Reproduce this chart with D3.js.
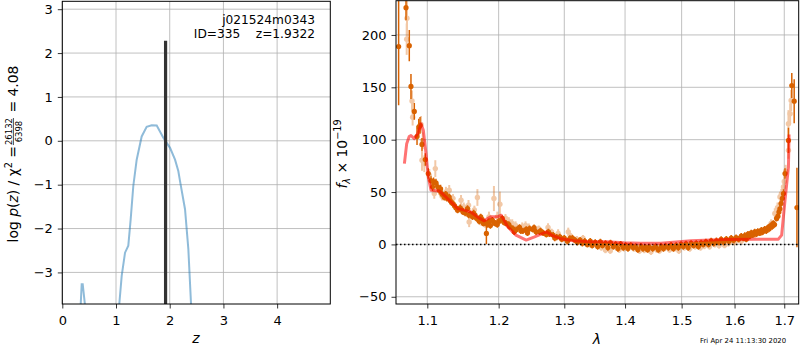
<!DOCTYPE html>
<html>
<head>
<meta charset="utf-8">
<script src="https://cdn.jsdelivr.net/npm/d3@7"></script>
<style>
body { margin: 0; background: #fff; }
text { font-family: "DejaVu Sans", sans-serif; fill: #000; }
</style>
</head>
<body>
<svg id="chart" width="800" height="350"></svg>
<script>
// ---- redshift panel: log p(z) ----
const pzZ = [0.34, 0.361, 0.38, 0.423, 0.47, 1.0, 1.061, 1.106, 1.168, 1.229, 1.273, 1.322, 1.385, 1.478,
    1.571, 1.665, 1.758, 1.881, 2.006, 2.099, 2.16, 2.192, 2.285, 2.347, 2.397, 2.45];
const pzLog = [-3.8, -3.27, -3.27, -3.75, -5, -5, -3.72, -3.08, -2.55, -2.39, -1.79, -1.03, -0.43, 0.10,
    0.32, 0.355, 0.35, 0.07, -0.16, -0.43, -0.69, -0.92, -1.56, -2.47, -3.72, -5];
const zBest = 1.9322;
const peakLog = 2.28;
const zTicks = [0, 1, 2, 3, 4];
const logTicks = [-3, -2, -1, 0, 1, 2, 3];
const chi2Num = 26132;
const chi2Den = 6398;
const objName = 'j021524m0343';
const objId = 335;

// ---- spectrum panel ----
// dark points (wavelength in micron, flux, error)
const darkWave = [1.0622, 1.0718, 1.0761, 1.0783, 1.0827, 1.0863, 1.0886, 1.0903, 1.0929, 1.0973, 1.1013, 1.105,
    1.1085, 1.1117, 1.114, 1.1161, 1.12, 1.123, 1.1265, 1.1298, 1.133, 1.137, 1.1414, 1.145, 1.149, 1.1553,
    1.159, 1.1624, 1.166, 1.17, 1.1741, 1.178, 1.1822, 1.186, 1.1908, 1.195, 1.2, 1.2053, 1.2111, 1.216,
    1.2209, 1.226, 1.2309, 1.236, 1.241, 1.246, 1.2512, 1.256, 1.2615, 1.267, 1.2719, 1.277, 1.2824, 1.288,
    1.293, 1.3, 1.309, 1.317, 1.3253, 1.333, 1.3418, 1.35, 1.3585, 1.367, 1.3754, 1.384, 1.3925, 1.401,
    1.4098, 1.418, 1.4273, 1.435, 1.4421, 1.453, 1.4627, 1.471, 1.4807, 1.49, 1.4989, 1.508, 1.5174, 1.527,
    1.5361, 1.545, 1.555, 1.565, 1.5741, 1.584, 1.5935, 1.603, 1.6131, 1.62, 1.6264, 1.633, 1.6398, 1.646,
    1.6533, 1.66, 1.667, 1.672, 1.6773, 1.6842, 1.689, 1.6932, 1.6983, 1.7016, 1.7087, 1.7157, 1.7207, 1.7265,
    // lower side of the band
    1.107, 1.118, 1.125, 1.131, 1.135, 1.139, 1.147, 1.152, 1.157, 1.164, 1.168, 1.172, 1.176, 1.18,
    1.184, 1.188, 1.193, 1.198, 1.203, 1.208, 1.215, 1.223, 1.233, 1.243, 1.253, 1.263, 1.275, 1.285,
    1.296, 1.305, 1.313, 1.321, 1.329, 1.337, 1.345, 1.354, 1.362, 1.371, 1.38, 1.388, 1.397, 1.405,
    1.414, 1.422, 1.431, 1.439, 1.448, 1.458, 1.467, 1.476, 1.485, 1.494, 1.503, 1.512, 1.522, 1.531,
    1.54, 1.55, 1.56, 1.57, 1.579, 1.589, 1.598, 1.608, 1.617, 1.623, 1.63, 1.636, 1.643, 1.65,
    1.656, 1.663, 1.669, 1.675, 1.68, 1.687, 1.691, 1.696];
const darkFlux = [188.9, 226, 189.8, 150.8, 127, 103, 112, 113.6, 95.5, 81, 67.6, 61,
    60, 58.7, 55, 51.7, 48, 45, 44, 45.3, 40, 37, 32.7, 35, 31, 34.3,
    29, 26.3, 28, 24, 26.3, 20, 10.5, 22, 23.1, 20, 22, 24.8, 20, 17,
    15.2, 14, 16.2, 13, 14.3, 15, 14.3, 12, 12, 11, 9.5, 10, 8.9, 7,
    7.2, 6, 5.7, 4, 4.1, 3, 3.1, 2, 2.5, 1, 1.5, 0, 0.3, -1,
    -1, -2, -1.6, -2.5, -2.3, -2, -1.6, -1.5, -0.7, -1, 0, 0.5, 1, 1,
    1.5, 2.5, 3.4, 3.5, 4.8, 5, 6, 6.5, 7.9, 8.5, 9.8, 11, 12, 12.5,
    13.6, 14.5, 16.2, 18, 20, 24.8, 31, 39, 48.6, 67.6, 99.3, 151.7, 136.8, 35.2,
    55, 53, 48, 42, 39, 35, 33, 30, 28, 30, 25, 22, 24, 21,
    19, 18, 21, 19, 23, 21, 19, 12, 13, 11, 16, 13, 12, 6,
    5, 3, 6, 2, 1, 0, -1, -2, -1, -3, -2, -4, -3, -4,
    -3, -5, -4, -5, -4, -5, -4, -3, -4, -3, -2, -3, -1, -2,
    0, 0, 1, 2, 2, 3, 4, 5, 6, 5, 8, 9, 10, 11,
    12, 13, 15, 17, 19, 27, 34, 44];
const darkErr = [56, 12, 15, 12, 8, 8, 8, 8, 6, 6, 5, 4,
    4, 4, 4, 4, 3, 3, 3, 3, 3, 3, 3, 3, 3, 3,
    3, 3, 3, 3, 3, 3, 10, 3, 3, 3, 3, 3, 3, 3,
    3, 3, 3, 3, 3, 3, 3, 3, 3, 3, 3, 3, 3, 3,
    3, 3, 3, 3, 3, 3, 3, 3, 3, 3, 3, 3, 3, 3,
    3, 3, 3, 3, 3, 3, 3, 3, 3, 3, 3, 3, 3, 3,
    3, 3, 3, 3, 3, 3, 3, 3, 3, 3, 3, 3, 3, 3,
    3, 3, 3, 3, 3, 3, 3, 4, 4, 5, 12, 12, 21, 38,
    4, 4, 3, 3, 3, 3, 3, 3, 3, 3, 3, 3, 3, 3,
    3, 3, 3, 3, 3, 3, 3, 3, 3, 3, 3, 3, 3, 3,
    3, 3, 3, 3, 3, 3, 3, 3, 3, 3, 3, 3, 3, 3,
    3, 3, 3, 3, 3, 3, 3, 3, 3, 3, 3, 3, 3, 3,
    3, 3, 3, 3, 3, 3, 3, 3, 3, 3, 3, 3, 3, 3,
    3, 3, 3, 3, 3, 4, 4, 4];

// light (transparent) points
const lightWave = [1.0727, 1.0731, 1.0797, 1.0805, 1.0916, 1.0939, 1.0929, 1.096, 1.1027, 1.1094, 1.1108, 1.1253,
    1.1298, 1.1462, 1.1567, 1.1585, 1.1576, 1.1693, 1.1741, 1.1859, 1.1931, 1.198, 1.2018, 1.215, 1.225,
    1.235, 1.245, 1.2745, 1.2903, 1.3063, 1.33, 1.35, 1.3669, 1.385, 1.3982, 1.415, 1.4331, 1.4392, 1.455,
    1.4686, 1.487, 1.505, 1.525, 1.5423, 1.562, 1.5806, 1.595, 1.6071, 1.62, 1.6331, 1.647, 1.6601, 1.6805,
    1.6911, 1.6983, 1.7087, 1.7087, 1.7122, 1.7143,
    1.12, 1.135, 1.15, 1.165, 1.18, 1.21, 1.22, 1.24, 1.26, 1.28, 1.31, 1.32, 1.34, 1.36,
    1.375, 1.39, 1.405, 1.425, 1.445, 1.46, 1.478, 1.495, 1.515, 1.535, 1.552, 1.57, 1.588, 1.6,
    1.613, 1.627, 1.64, 1.653, 1.667, 1.673, 1.686, 1.694, 1.7, 1.703];
const lightFlux = [196, 216, 137, 121.5, 114.6, 99, 80.3, 77, 66, 48.6, 72.4, 50,
    51.7, 42.2, 37.4, 29.5, 21.5, 44.8, 23.1, 26.3, 43.8, 26.3, 38.4, 22, 18,
    17, 16, 16.2, 10.5, 12, 6, 1, -5.4, -3, -3.8, -4, -5.4, -3.8, -5,
    -3.8, -4, -2.9, -2, -1.6, 0, -0.7, 3, 4.1, 6, 10.5, 11, 14.3, 29.5,
    45.3, 54.9, 89.8, 115.2, 124.8, 137.4,
    46, 44, 36, 33, 20, 25, 20, 18, 15, 12, 8, 5, 0, -3,
    -6, -5, -2, -6, -7, -6, -5, -6, -4, -3, -2, -1, 1, 2,
    3, 7, 9, 11, 14, 20, 35, 48, 60, 70];
const lightErr = [15, 20, 10, 8, 8, 8, 10, 8, 6, 5, 8, 5,
    5, 5, 5, 5, 5, 8, 5, 5, 12, 5, 12, 4, 4,
    4, 4, 4, 4, 4, 3, 3, 3, 3, 3, 3, 3, 3, 3,
    3, 3, 3, 3, 3, 3, 3, 3, 3, 3, 3, 3, 3, 5,
    5, 5, 8, 13, 10, 10,
    4, 4, 4, 4, 4, 4, 4, 4, 3, 3, 3, 3, 3, 3,
    3, 3, 3, 3, 3, 3, 3, 3, 3, 3, 3, 3, 3, 3,
    3, 3, 3, 3, 3, 4, 5, 5, 6, 6];

// model
const modelWave = [1.0697, 1.0727, 1.076, 1.0783, 1.0827, 1.0873, 1.0916, 1.0947, 1.0983, 1.1013, 1.105, 1.1161,
    1.1253, 1.1345, 1.1414, 1.1505, 1.16, 1.1693, 1.1786, 1.1882, 1.198, 1.2038, 1.2133, 1.2256, 1.241,
    1.2537, 1.2719, 1.2798, 1.293, 1.3143, 1.3418, 1.3697, 1.3982, 1.4273, 1.4627, 1.5174, 1.5806, 1.6466,
    1.6878, 1.6946, 1.7016, 1.7087, 1.71];
const modelFlux = [77.1, 96.2, 103, 104, 101, 105.7, 115.2, 108.9, 86.7, 64.4, 51.7, 51,
    45.3, 39, 34.3, 32.7, 31, 26.3, 22.5, 26.3, 26.3, 27.9, 16.8, 8.9, 4.1,
    7.2, 12, 8.9, 5.7, 3.4, 2.5, 2.5, 1.5, 1, 1, 3.4, 4.8, 5,
    5, 8.9, 42.2, 73.9, 105];
const waveTicks = [1.1, 1.2, 1.3, 1.4, 1.5, 1.6, 1.7];
const fluxTicks = [-50, 0, 50, 100, 150, 200];
const dateText = 'Fri Apr 24 11:13:30 2020';

const orange = '#d96200';
const svg = d3.select('#chart');

// set up a matplotlib-like box with grid and ticks
const makePanel = (x, y, xTicks, yTicks, fmtX, fmtY, id) => {
    const [x0, x1] = x.range();
    const [y0, y1] = y.range();
    const g = svg.append('g');
    g.append('clipPath').attr('id', id).append('rect')
        .attr('x', x0).attr('y', y1).attr('width', x1 - x0).attr('height', y0 - y1);

    const grid = g.append('g').attr('stroke', '#b0b0b0').attr('stroke-width', 0.8);
    grid.selectAll('.gx').data(xTicks).enter().append('line')
        .attr('x1', d => x(d)).attr('x2', d => x(d)).attr('y1', y0).attr('y2', y1);
    grid.selectAll('.gy').data(yTicks).enter().append('line')
        .attr('y1', d => y(d)).attr('y2', d => y(d)).attr('x1', x0).attr('x2', x1);

    const styleAxis = a => {
        a.select('.domain').remove();
        a.attr('font-size', 13).attr('font-family', '"DejaVu Sans", sans-serif');
        a.selectAll('line').attr('stroke', '#000').attr('stroke-width', 0.8);
    };
    g.append('g').attr('transform', `translate(0,${y0})`)
        .call(d3.axisBottom(x).tickValues(xTicks).tickSize(4.5).tickPadding(7).tickFormat(fmtX))
        .call(styleAxis);
    g.append('g').attr('transform', `translate(${x0},0)`)
        .call(d3.axisLeft(y).tickValues(yTicks).tickSize(4.5).tickPadding(5).tickFormat(fmtY))
        .call(styleAxis);

    const plot = g.append('g').attr('clip-path', `url(#${id})`);
    const frame = () => g.append('rect')
        .attr('x', x0).attr('y', y1).attr('width', x1 - x0).attr('height', y0 - y1)
        .attr('fill', 'none').attr('stroke', '#000').attr('stroke-width', 1);
    return { g, plot, frame };
};

// ---------- left panel ----------
const zScale = d3.scaleLinear().domain([0, 4.99]).range([62.3, 330.3]);
const pScale = d3.scaleLinear().domain([-3.72, 3.18]).range([304, 1.3]);
const left = makePanel(zScale, pScale, zTicks, logTicks, d3.format('d'), d3.format('d'), 'clipL');

left.plot.append('path')
    .datum(pzZ.map((z, i) => [z, pzLog[i]]))
    .attr('d', d3.line().x(d => zScale(d[0])).y(d => pScale(d[1])))
    .attr('fill', 'none').attr('stroke', '#1f77b4').attr('stroke-opacity', 0.5).attr('stroke-width', 2);

left.plot.append('line')
    .attr('x1', zScale(zBest) - 0.5).attr('x2', zScale(zBest) - 0.5)
    .attr('y1', pScale(-3.72)).attr('y2', pScale(peakLog))
    .attr('stroke', '#333').attr('stroke-width', 3.2);
left.frame();

left.g.append('text').attr('x', 315).attr('y', 24).attr('text-anchor', 'end')
    .attr('font-size', 12.2).text(objName);
left.g.append('text').attr('x', 315).attr('y', 38).attr('text-anchor', 'end')
    .attr('font-size', 12.2).style('white-space', 'pre')
    .text(`ID=${objId}    z=${zBest.toFixed(4)}`);

// x label
left.g.append('text').attr('x', 196).attr('y', 343).attr('text-anchor', 'middle')
    .attr('font-size', 14).attr('font-style', 'italic').text('z');

// y label with a fraction
const yl = svg.append('g').attr('transform', 'translate(18,154) rotate(-90)');
const ylIn = yl.append('g');
const t1 = ylIn.append('text').attr('font-size', 13.9);
t1.append('tspan').text('log ');
t1.append('tspan').attr('font-style', 'italic').text('p');
t1.append('tspan').text('(');
t1.append('tspan').attr('font-style', 'italic').text('z');
t1.append('tspan').text(') / χ');
t1.append('tspan').attr('font-size', 9.7).attr('dy', -6).text('2');
t1.append('tspan').attr('dy', 6).text(' = ');
const w1 = t1.node().getComputedTextLength();
const num = ylIn.append('text').attr('font-size', 8.5).attr('y', -6.5).text(chi2Num);
const den = ylIn.append('text').attr('font-size', 8.5).attr('y', 3.5).text(chi2Den);
const wn = num.node().getComputedTextLength();
const wd = den.node().getComputedTextLength();
const fw = Math.max(wn, wd);
const fx = w1 + 1;
num.attr('x', fx + (fw - wn) / 2);
den.attr('x', fx + (fw - wd) / 2);
ylIn.append('line').attr('x1', fx).attr('x2', fx + fw).attr('y1', -4.6).attr('y2', -4.6)
    .attr('stroke', '#000').attr('stroke-width', 0.7);
const t2 = ylIn.append('text').attr('font-size', 13.9).attr('x', fx + fw + 1)
    .text(` = ${(chi2Num / chi2Den).toFixed(2)}`).style('white-space', 'pre');
const total = fx + fw + 1 + t2.node().getComputedTextLength();
ylIn.attr('transform', `translate(${-total / 2},0)`);

// ---------- right panel ----------
const wScale = d3.scaleLog().domain([1.0588, 1.7302]).range([396, 798.7]);
const fScale = d3.scaleLinear().domain([-56.9, 232.7]).range([304, 0.7]);
const right = makePanel(wScale, fScale, waveTicks, fluxTicks, d3.format('.1f'), d3.format('d'), 'clipR');

const drawPoints = (wave, flux, err, opacity, r, ew) => {
    const pts = right.plot.append('g').attr('opacity', opacity);
    const data = wave.map((w, i) => ({ w, f: flux[i], e: err[i] }));
    pts.selectAll('line').data(data).enter().append('line')
        .attr('x1', d => wScale(d.w)).attr('x2', d => wScale(d.w))
        .attr('y1', d => fScale(d.f - d.e)).attr('y2', d => fScale(d.f + d.e))
        .attr('stroke', orange).attr('stroke-width', ew);
    pts.selectAll('circle').data(data).enter().append('circle')
        .attr('cx', d => wScale(d.w)).attr('cy', d => fScale(d.f)).attr('r', r)
        .attr('fill', orange);
};
drawPoints(lightWave, lightFlux, lightErr, 0.35, 2.7, 2);
drawPoints(darkWave, darkFlux, darkErr, 1, 2.6, 1.5);

right.plot.append('line')
    .attr('x1', wScale.range()[0]).attr('x2', wScale.range()[1])
    .attr('y1', fScale(0)).attr('y2', fScale(0))
    .attr('stroke', '#000').attr('stroke-width', 1.5).attr('stroke-dasharray', '1.5,2.5');

right.plot.append('path')
    .datum(modelWave.map((w, i) => [w, modelFlux[i]]))
    .attr('d', d3.line().x(d => wScale(d[0])).y(d => fScale(d[1])))
    .attr('fill', 'none').attr('stroke', '#ff0000').attr('stroke-opacity', 0.55)
    .attr('stroke-width', 3).attr('stroke-linejoin', 'round');
right.frame();

right.g.append('text').attr('x', 597).attr('y', 344).attr('text-anchor', 'middle')
    .attr('font-size', 14).attr('font-style', 'italic').text('λ');

const fl = svg.append('g').attr('transform', 'translate(347,154) rotate(-90)');
const ft = fl.append('text').attr('text-anchor', 'middle').attr('font-size', 13.9);
ft.append('tspan').attr('font-style', 'italic').text('f');
ft.append('tspan').attr('font-size', 9.7).attr('font-style', 'italic').attr('dy', 3).text('λ');
ft.append('tspan').attr('dy', -3).text(' × 10');
ft.append('tspan').attr('font-size', 9.7).attr('dy', -6).text('−19');

svg.append('text').attr('x', 700).attr('y', 343).attr('font-size', 6.9).text(dateText);
</script>
</body>
</html>
